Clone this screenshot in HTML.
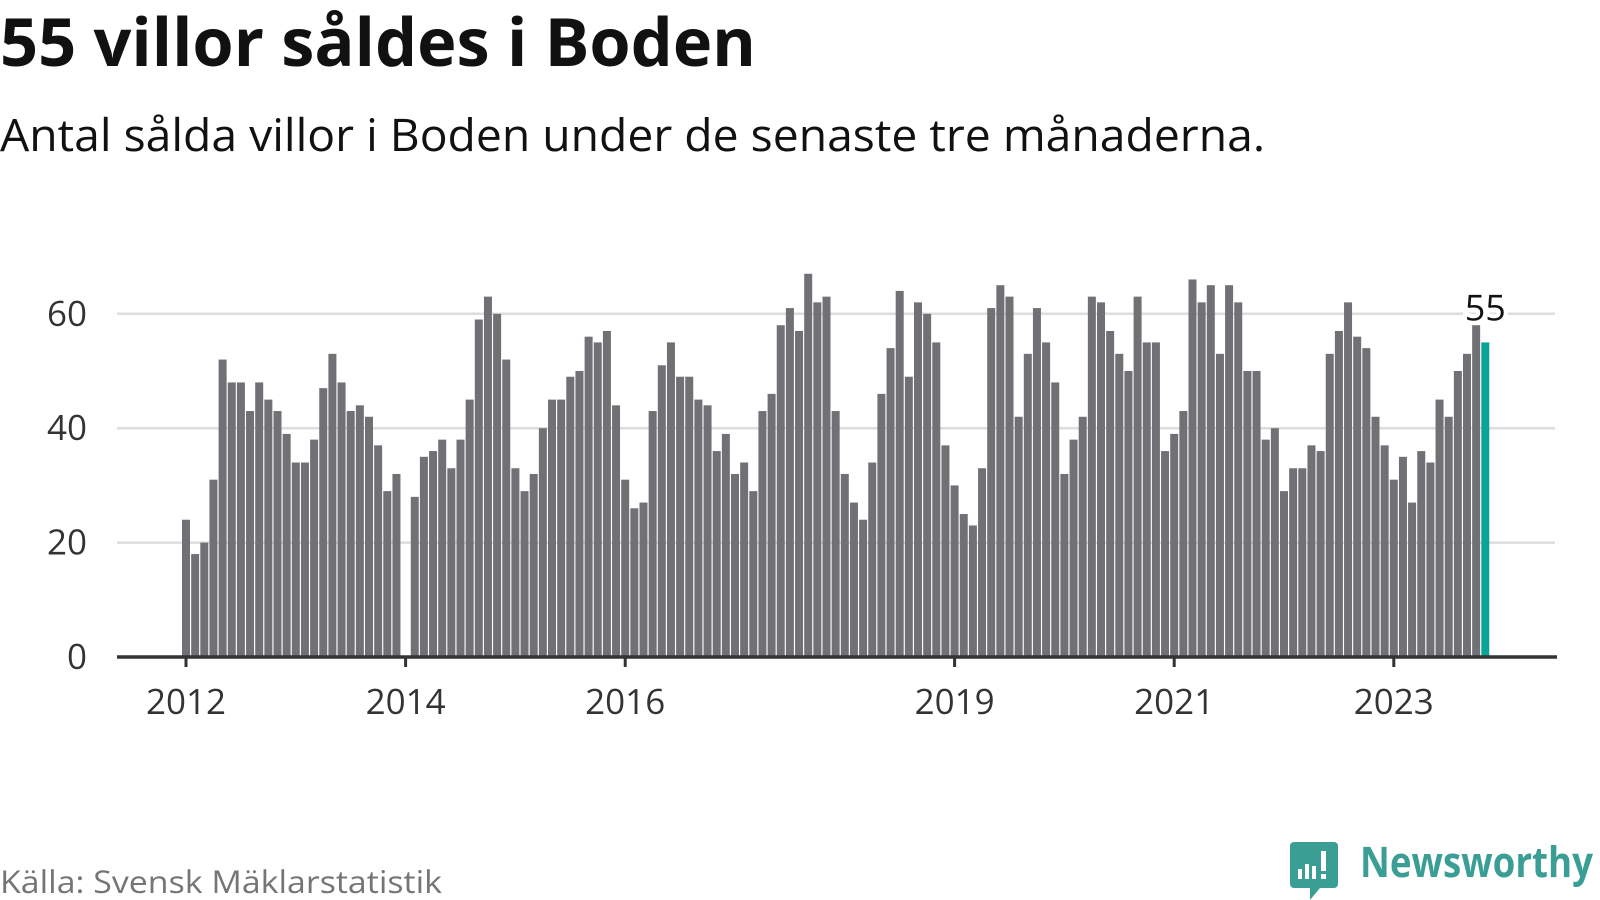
<!DOCTYPE html>
<html><head><meta charset="utf-8"><style>
html,body{margin:0;padding:0;background:#fff;}
svg{display:block;font-family:"Open Sans","Liberation Sans",sans-serif;}
</style></head><body>
<svg id="chart" width="1600" height="900" viewBox="0 0 1600 900" xmlns="http://www.w3.org/2000/svg">
<text x="0" y="66" font-size="66" font-weight="bold" fill="#111" textLength="756" lengthAdjust="spacingAndGlyphs">55 villor såldes i Boden</text>
<text x="0" y="151" font-size="45" fill="#111" textLength="1265" lengthAdjust="spacingAndGlyphs">Antal sålda villor i Boden under de senaste tre månaderna.</text>
<g id="grid"></g>
<g id="bars"></g>
<g id="axes"></g>
<text x="0" y="893" font-size="31" fill="#757575" textLength="442" lengthAdjust="spacingAndGlyphs">Källa: Svensk Mäklarstatistik</text>
<g>
<path d="M1294 842 h40 a4 4 0 0 1 4 4 v38 a4 4 0 0 1 -4 4 h-14 l-10 12 v-12 h-16 a4 4 0 0 1 -4 -4 v-38 a4 4 0 0 1 4 -4z" fill="#3a9e95"/>
<rect x="1298" y="869" width="4" height="10" fill="#fff"/><rect x="1305" y="864" width="4" height="15" fill="#fff"/><rect x="1312" y="866" width="4" height="13" fill="#fff"/><rect x="1321" y="851" width="5" height="20" fill="#fff"/><rect x="1321" y="874" width="5" height="5" fill="#fff"/>
<text x="1360" y="877" font-size="42" font-weight="bold" fill="#3a9e95" textLength="233" lengthAdjust="spacingAndGlyphs">Newsworthy</text>
</g>
</svg>
<script>
const values = [24,18,20,31,52,48,48,43,48,45,43,39,34,34,38,47,53,48,43,44,42,37,29,32,
0,28,35,36,38,33,38,45,59,63,60,52,33,29,32,40,45,45,49,50,56,55,57,44,31,
26,27,43,51,55,49,49,45,44,36,39,32,34,29,43,46,58,61,57,67,62,63,43,32,
27,24,34,46,54,64,49,62,60,55,37,30,25,23,33,61,65,63,42,53,61,55,48,32,
38,42,63,62,57,53,50,63,55,55,36,39,43,66,62,65,53,65,62,50,50,38,40,29,
33,33,37,36,53,57,62,56,54,42,37,31,35,27,36,34,45,42,50,53,58,55];
const yTicks = [0,20,40,60];
const xTickLabels = ["2012","2014","2016","2019","2021","2023"];
const xTickIndex = [0,24,48,84,108,132];
const lastLabel = "55";

const NS="http://www.w3.org/2000/svg";
const y0=657, yPer=5.72, x0=186, xPer=9.15;
function yS(v){return y0-v*yPer;}
function xS(i){return x0+i*xPer;}
function mk(tag,attrs,parent){const e=document.createElementNS(NS,tag);for(const k in attrs)e.setAttribute(k,attrs[k]);parent.appendChild(e);return e;}
const grid=document.getElementById('grid'),bars=document.getElementById('bars'),axes=document.getElementById('axes');
yTicks.forEach(t=>{
  if(t>0){const l=mk('line',{x1:117,x2:1555,y1:yS(t),y2:yS(t),stroke:'#dddddd','stroke-width':2.5},grid);
  
  }
  const tx=mk('text',{x:87,y:yS(t)+12,'text-anchor':'end','font-size':35,fill:'#333'},axes);
  tx.textContent=t;
  
  
});
values.forEach((v,i)=>{
  const last=i===values.length-1;
  const r=mk('rect',{x:xS(i)-4,y:yS(v),width:8,height:v*yPer,fill:last?'#0aa398':'#707075'},bars);
  
  
});
const ax=mk('line',{x1:117,x2:1557,y1:y0,y2:y0,stroke:'#333','stroke-width':3.5},axes);


xTickIndex.forEach((idx,k)=>{
  const tk=mk('line',{x1:xS(idx),x2:xS(idx),y1:y0,y2:y0+10,stroke:'#333','stroke-width':3},axes);
  
  
  const tx=mk('text',{x:xS(idx),y:714,'text-anchor':'middle','font-size':35,fill:'#333'},axes);
  tx.textContent=xTickLabels[k];
  
  
});
const li=values.length-1;
const lb=mk('text',{x:xS(li),y:yS(values[li])-22,'text-anchor':'middle','font-size':36,fill:'#111',stroke:'#fff','stroke-width':8,'paint-order':'stroke'},axes);
lb.textContent=lastLabel;


</script>
</body></html>
